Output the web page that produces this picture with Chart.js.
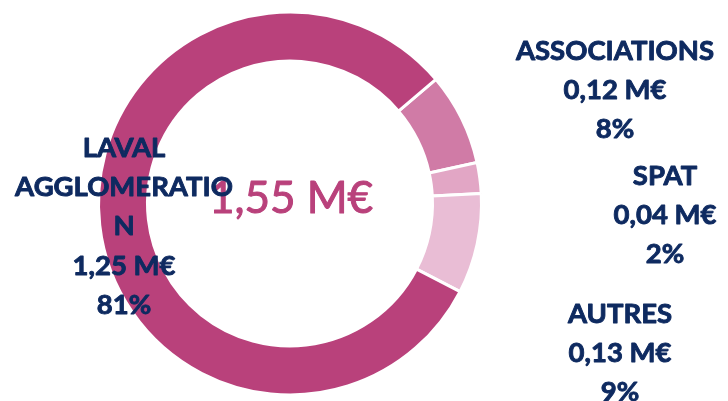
<!DOCTYPE html>
<html>
<head>
<meta charset="utf-8">
<script src="https://cdn.jsdelivr.net/npm/chart.js@4.4.1/dist/chart.umd.min.js"></script>
<style>
  html, body { margin: 0; padding: 0; background: #ffffff; }
  #wrap { width: 728px; height: 401px; position: relative; }
</style>
</head>
<body>
<div id="wrap"><canvas id="c" width="728" height="401"></canvas></div>
<script>
// ---- data ----
const categories = ['ASSOCIATIONS', 'SPAT', 'AUTRES', 'LAVAL AGGLOMERATION'];
const values = [0.12, 0.04, 0.13, 1.25];          // M€
const percents = [8, 2, 9, 81];                    // % as shown
const totalLabel = 1.55;                           // M€ shown in centre
const colors = ['#d07ba6', '#e2a6c5', '#e9bdd5', '#b9417b'];

// label placement (relative to doughnut centre) and wrap width
const labelLayout = [
  { dx: 325, dy: -143.5, maxW: 300 },
  { dx: 375, dy: -18.5, maxW: 300 },
  { dx: 330, dy: 119.5, maxW: 300 },
  { dx: -166, dy: -46.5, maxW: 225 }
];

function fmt(v) { return v.toFixed(2).replace('.', ',') + ' M€'; }

function wrap(ctx, text, maxW) {
  const words = text.split(' ');
  const lines = [];
  let cur = '';
  for (const w of words) {
    const t = cur ? cur + ' ' + w : w;
    if (ctx.measureText(t).width <= maxW) { cur = t; continue; }
    if (cur) lines.push(cur);
    cur = '';
    let piece = '';
    for (const ch of w) {
      if (ctx.measureText(piece + ch).width > maxW && piece) { lines.push(piece); piece = ch; }
      else piece += ch;
    }
    cur = piece;
  }
  if (cur) lines.push(cur);
  return lines;
}

function heavyText(ctx, txt, x, y, w) {
  ctx.lineWidth = w;
  ctx.lineJoin = 'round';
  ctx.strokeText(txt, x, y);
  ctx.fillText(txt, x, y);
}

const labelPlugin = {
  id: 'labels',
  afterDraw(chart) {
    const ctx = chart.ctx;
    const arc = chart.getDatasetMeta(0).data[0];
    const cx = arc.x, cy = arc.y;
    ctx.save();
    ctx.textAlign = 'center';
    ctx.textBaseline = 'alphabetic';
    // centre total
    ctx.fillStyle = '#b9417b';
    ctx.strokeStyle = '#b9417b';
    ctx.font = '44px Lato';
    heavyText(ctx, fmt(totalLabel), cx + 1, cy + 9.5, 1.0);
    // slice labels
    ctx.fillStyle = '#0e2a60';
    ctx.strokeStyle = '#0e2a60';
    ctx.font = 'bold 27.5px Lato';
    const lh = 39.2;
    categories.forEach((name, i) => {
      const L = labelLayout[i];
      const lines = wrap(ctx, name, L.maxW).concat([fmt(values[i]), percents[i] + '%']);
      lines.forEach((ln, k) => {
        heavyText(ctx, ln, cx + L.dx, cy + L.dy + k * lh, 0.9);
      });
    });
    ctx.restore();
  }
};

new Chart(document.getElementById('c'), {
  type: 'doughnut',
  data: {
    labels: categories,
    datasets: [{
      data: values,
      backgroundColor: colors,
      borderColor: '#ffffff',
      borderWidth: 3,
      hoverOffset: 0
    }]
  },
  options: {
    responsive: false,
    animation: false,
    rotation: 49.6,
    radius: 191.5,
    cutout: 144,
    layout: { padding: { left: 95, right: 243, top: 8, bottom: 2 } },
    plugins: { legend: { display: false }, tooltip: { enabled: false } },
    events: []
  },
  plugins: [labelPlugin]
});
</script>
</body>
</html>
